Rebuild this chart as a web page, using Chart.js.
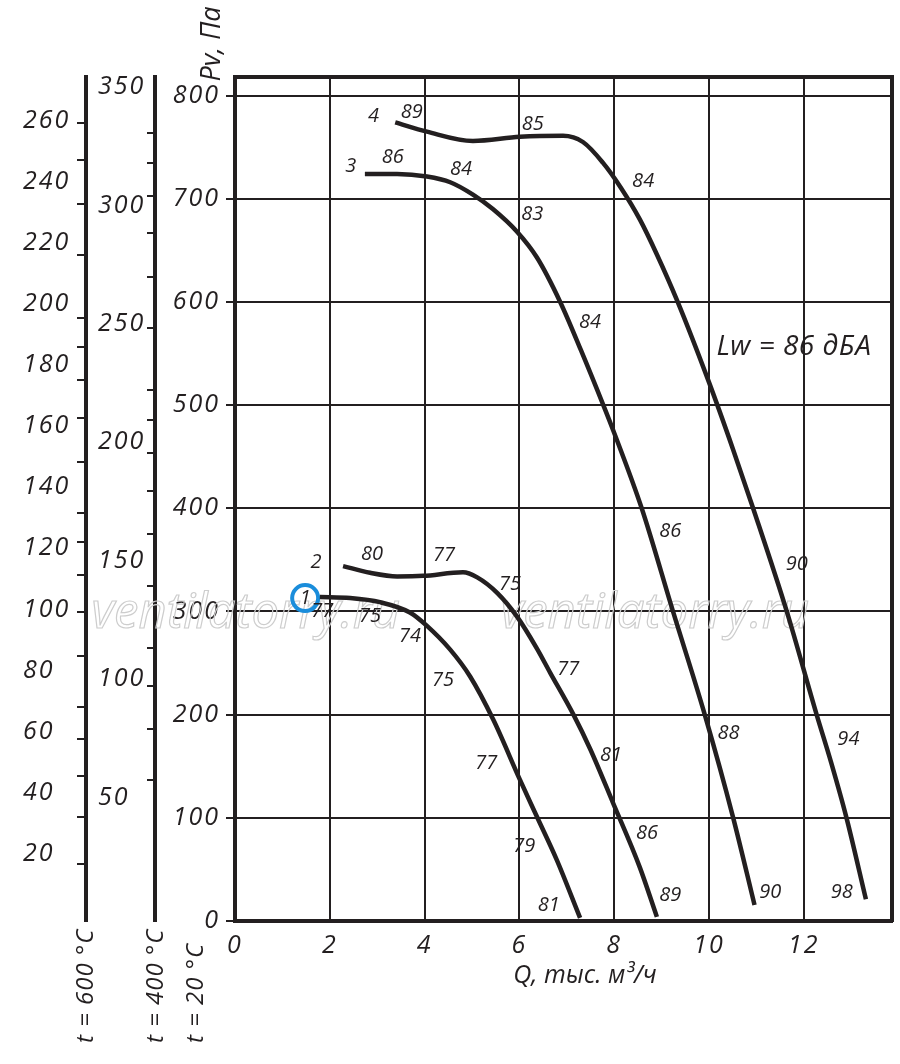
<!DOCTYPE html>
<html><head><meta charset="utf-8">
<script src="https://cdn.jsdelivr.net/npm/chart.js@4.4.1/dist/chart.umd.min.js"></script>
<style>html,body{margin:0;padding:0;background:#fff}canvas{display:block}</style>
</head><body>
<canvas id="c" width="900" height="1064"></canvas>
<script>
// ---- data (Q in thousand m3/h, Pv in Pa at 20 °C) ----
const q1 = [1.79, 2.43, 3.06, 3.69, 4.05, 4.54, 4.96, 5.45, 6.01, 6.37, 6.79, 7.28];
const p1 = [314, 313, 309, 299, 286, 263, 237, 195, 137, 101, 59, 3];
const q2 = [2.28, 2.85, 3.42, 3.97, 4.81, 5.11, 5.53, 5.95, 6.37, 6.65, 7.14, 7.50, 7.97, 8.54, 8.90];
const p2 = [344, 337.5, 334, 334.5, 338, 333, 318, 295, 264, 240.5, 200, 166, 115, 52, 4];
const q3 = [2.74, 3.42, 4.05, 4.54, 5.02, 5.44, 5.95, 6.37, 6.86, 7.30, 7.77, 8.0, 8.58, 9.24, 9.91, 10.51, 10.96];
const p3 = [724, 724, 721.5, 716, 704, 690, 668, 643, 600, 553, 500, 473, 400, 300, 200, 100, 15.5];
const q4 = [3.38, 4.05, 5.02, 6.01, 6.92, 7.34, 7.76, 8.15, 8.54, 8.90, 9.33, 10.0, 10.5, 10.93, 11.64, 12.27, 12.58, 12.90, 13.31];
const p4 = [774, 765, 756, 760, 761, 755, 735, 710, 680, 646, 601, 522, 458, 400, 300, 200, 153, 100, 21];

// noise level labels along curves: [Q, Pv, text]
const labels1 = [[1.48, 313, '1'], [1.84, 300, '77'], [2.85, 295, '75'], [3.69, 275.5, '74'], [4.39, 233, '75'], [5.30, 153, '77'], [6.10, 72.7, '79'], [6.62, 15.5, '81']];
const labels2 = [[1.71, 348, '2'], [2.89, 355, '80'], [4.41, 354, '77'], [5.80, 326, '75'], [7.03, 243.5, '77'], [7.93, 161, '81'], [8.69, 85.4, '86'], [9.18, 25.2, '89']];
const labels3 = [[2.44, 731.6, '3'], [3.33, 740, '86'], [4.77, 729, '84'], [6.27, 685, '83'], [7.49, 580, '84'], [9.18, 377.6, '86'], [10.41, 182, '88'], [11.29, 27.4, '90']];
const labels4 = [[2.92, 779.5, '4'], [3.73, 783.4, '89'], [6.28, 772, '85'], [8.61, 717, '84'], [11.85, 345.3, '90'], [12.94, 176.2, '94'], [12.80, 27.4, '98']];
const markQ = [1.48];
const markP = [313];

// axes
const xTicks = [0, 2, 4, 6, 8, 10, 12];
const yTicks = [0, 100, 200, 300, 400, 500, 600, 700, 800];
const t400Labels = [50, 100, 150, 200, 250, 300, 350];
const t400Minor = [330.7, 318, 303.9, 288.3, 269.8, 248.3, 221.9, 209.3, 195.3, 179.5, 161.3, 139.5, 113.1, 97.3, 78.9, 57.5];
const t600Labels = [20, 40, 60, 80, 100, 120, 140, 160, 180, 200, 220, 240, 260];
const t600Minor = [259.3, 246.9, 232.8, 215.8, 195.5, 186, 174.9, 162.7, 148.3, 131.6, 122.1, 111.3, 99.2, 84.8, 68.1, 57.6, 45.5, 32.1, 16.7];

const lwText = 'Lw = 86 дБА';
const lwPos = [11.79, 556];
const watermark = 'ventilatorry.ru';
const watermarkPos = [[0.23, 284], [8.86, 284]];

// ---- rendering ----
const INK = '#231f20';
const FAM = "'Open Sans', 'Noto Sans', sans-serif";
const fnt = (s) => ({ family: FAM, size: s, style: 'italic' });
const pts = (q, p) => q.map((v, i) => ({ x: v, y: p[i] }));
const curve = (q, p) => ({ data: pts(q, p), borderColor: INK, borderWidth: 4.5, pointRadius: 0, cubicInterpolationMode: 'monotone', fill: false, borderCapStyle: 'butt' });
const setTicks = (arr) => (s) => { s.ticks = arr.map(v => ({ value: v })); };
const noPad = (s) => { s.paddingLeft = 0; s.paddingRight = 0; s.paddingTop = 0; s.paddingBottom = 0; };
const fitW = (w) => (s) => { s.width = w; noPad(s); };
const fitH = (h) => (s) => { s.height = h; noPad(s); };
const setSpacing = (ctx, v) => { if ('letterSpacing' in ctx) ctx.letterSpacing = v; };

const extras = {
  id: 'extras',
  beforeDraw(chart) { setSpacing(chart.ctx, '2px'); },
  beforeDatasetsDraw(chart) {
    const { ctx, scales: { x, y } } = chart;
    setSpacing(ctx, '0px');
    ctx.save();
    ctx.font = "italic 49px " + FAM;
    ctx.strokeStyle = '#cdcdcd';
    ctx.lineWidth = 1.2;
    ctx.textAlign = 'center';
    ctx.textBaseline = 'alphabetic';
    watermarkPos.forEach(p => ctx.strokeText(watermark, x.getPixelForValue(p[0]), y.getPixelForValue(p[1])));
    ctx.restore();
  },
  afterDraw(chart) {
    const { ctx, scales } = chart;
    const { x, y, t400, t600 } = scales;
    ctx.save();
    setSpacing(ctx, '0px');
    ctx.strokeStyle = INK; ctx.fillStyle = INK; ctx.lineWidth = 2;
    // minor tick marks on temperature axes
    t600Minor.forEach(v => { const py = Math.round(t600.getPixelForValue(v)); ctx.beginPath(); ctx.moveTo(t600.right - 9, py); ctx.lineTo(t600.right, py); ctx.stroke(); });
    t400Minor.forEach(v => { const py = Math.round(t400.getPixelForValue(v)); ctx.beginPath(); ctx.moveTo(t400.right - 8, py); ctx.lineTo(t400.right, py); ctx.stroke(); });
    // curve labels
    ctx.font = "italic 20px " + FAM;
    ctx.textAlign = 'center'; ctx.textBaseline = 'middle';
    [labels1, labels2, labels3, labels4].forEach(list => list.forEach(l => ctx.fillText(l[2], x.getPixelForValue(l[0]), y.getPixelForValue(l[1]))));
    // Lw text
    ctx.font = "italic 28px " + FAM;
    setSpacing(ctx, '0.5px');
    ctx.fillText(lwText, x.getPixelForValue(lwPos[0]), y.getPixelForValue(lwPos[1]));
    setSpacing(ctx, '0px');
    // axis titles
    ctx.font = "italic 25px " + FAM;
    ctx.fillText('Q, тыс. м³/ч', 585, 976);
    ctx.font = "italic 27px " + FAM;
    ctx.save(); ctx.translate(212, 44); ctx.rotate(-Math.PI / 2); ctx.fillText('Pv, Па', 0, 0); ctx.restore();
    ctx.font = "italic 24px " + FAM;
    setSpacing(ctx, '1px');
    ctx.textAlign = 'left';
    [[86, 't = 600 °C'], [156, 't = 400 °C'], [196.5, 't = 20 °C']].forEach(a => {
      ctx.save(); ctx.translate(a[0], 1043); ctx.rotate(-Math.PI / 2); ctx.fillText(a[1], 0, 0); ctx.restore();
    });
    ctx.restore();
    setSpacing(ctx, '0px');
  }
};

new Chart(document.getElementById('c'), {
  type: 'line',
  data: {
    datasets: [
      curve(q1, p1), curve(q2, p2), curve(q3, p3), curve(q4, p4),
      { data: pts(markQ, markP), showLine: false, pointRadius: 13, pointBorderWidth: 4, pointBorderColor: '#1a8ddb', pointBackgroundColor: 'rgba(255,255,255,0)', borderColor: '#1a8ddb', clip: false }
    ]
  },
  options: {
    responsive: false, animation: false, devicePixelRatio: 1,
    layout: { autoPadding: false, padding: { left: 23, right: 8, top: 77, bottom: 0 } },
    plugins: { legend: { display: false }, tooltip: { enabled: false } },
    scales: {
      x: {
        type: 'linear', position: 'bottom', min: 0, max: 13.86,
        afterBuildTicks: setTicks(xTicks), afterFit: fitH(143),
        grid: { color: INK, lineWidth: 2, drawTicks: false },
        border: { color: INK, width: 4 },
        ticks: { font: fnt(25), color: INK, padding: 10, maxRotation: 0 }
      },
      y: {
        type: 'linear', position: 'left', weight: 0, min: 0, max: 818,
        afterBuildTicks: setTicks(yTicks), afterFit: fitW(80),
        grid: { color: INK, lineWidth: 2, tickLength: 9 },
        border: { color: INK, width: 4 },
        ticks: { font: fnt(25), color: INK, padding: 6 }
      },
      t400: {
        type: 'linear', position: 'left', weight: 1, min: -2.11, max: 354.2,
        afterBuildTicks: setTicks(t400Labels), afterFit: fitW(57),
        grid: { display: false },
        border: { display: true, color: INK, width: 4 },
        ticks: { font: fnt(25), color: INK, crossAlign: 'far' }
      },
      gap: {
        type: 'linear', position: 'left', weight: 2, display: true,
        afterFit: fitW(12),
        grid: { display: false }, border: { display: false }, ticks: { display: false }
      },
      t600: {
        type: 'linear', position: 'left', weight: 3, min: -1.96, max: 274.2,
        afterBuildTicks: setTicks(t600Labels), afterFit: fitW(63),
        grid: { display: false },
        border: { display: true, color: INK, width: 4 },
        ticks: { font: fnt(25), color: INK, crossAlign: 'far' }
      },
      top: {
        type: 'linear', position: 'top', display: true, afterFit: fitH(0),
        grid: { display: false }, border: { display: true, color: INK, width: 4 }, ticks: { display: false }
      },
      right: {
        type: 'linear', position: 'right', display: true, afterFit: fitW(0),
        grid: { display: false }, border: { display: true, color: INK, width: 4 }, ticks: { display: false }
      }
    }
  },
  plugins: [extras]
});
</script>
</body></html>
